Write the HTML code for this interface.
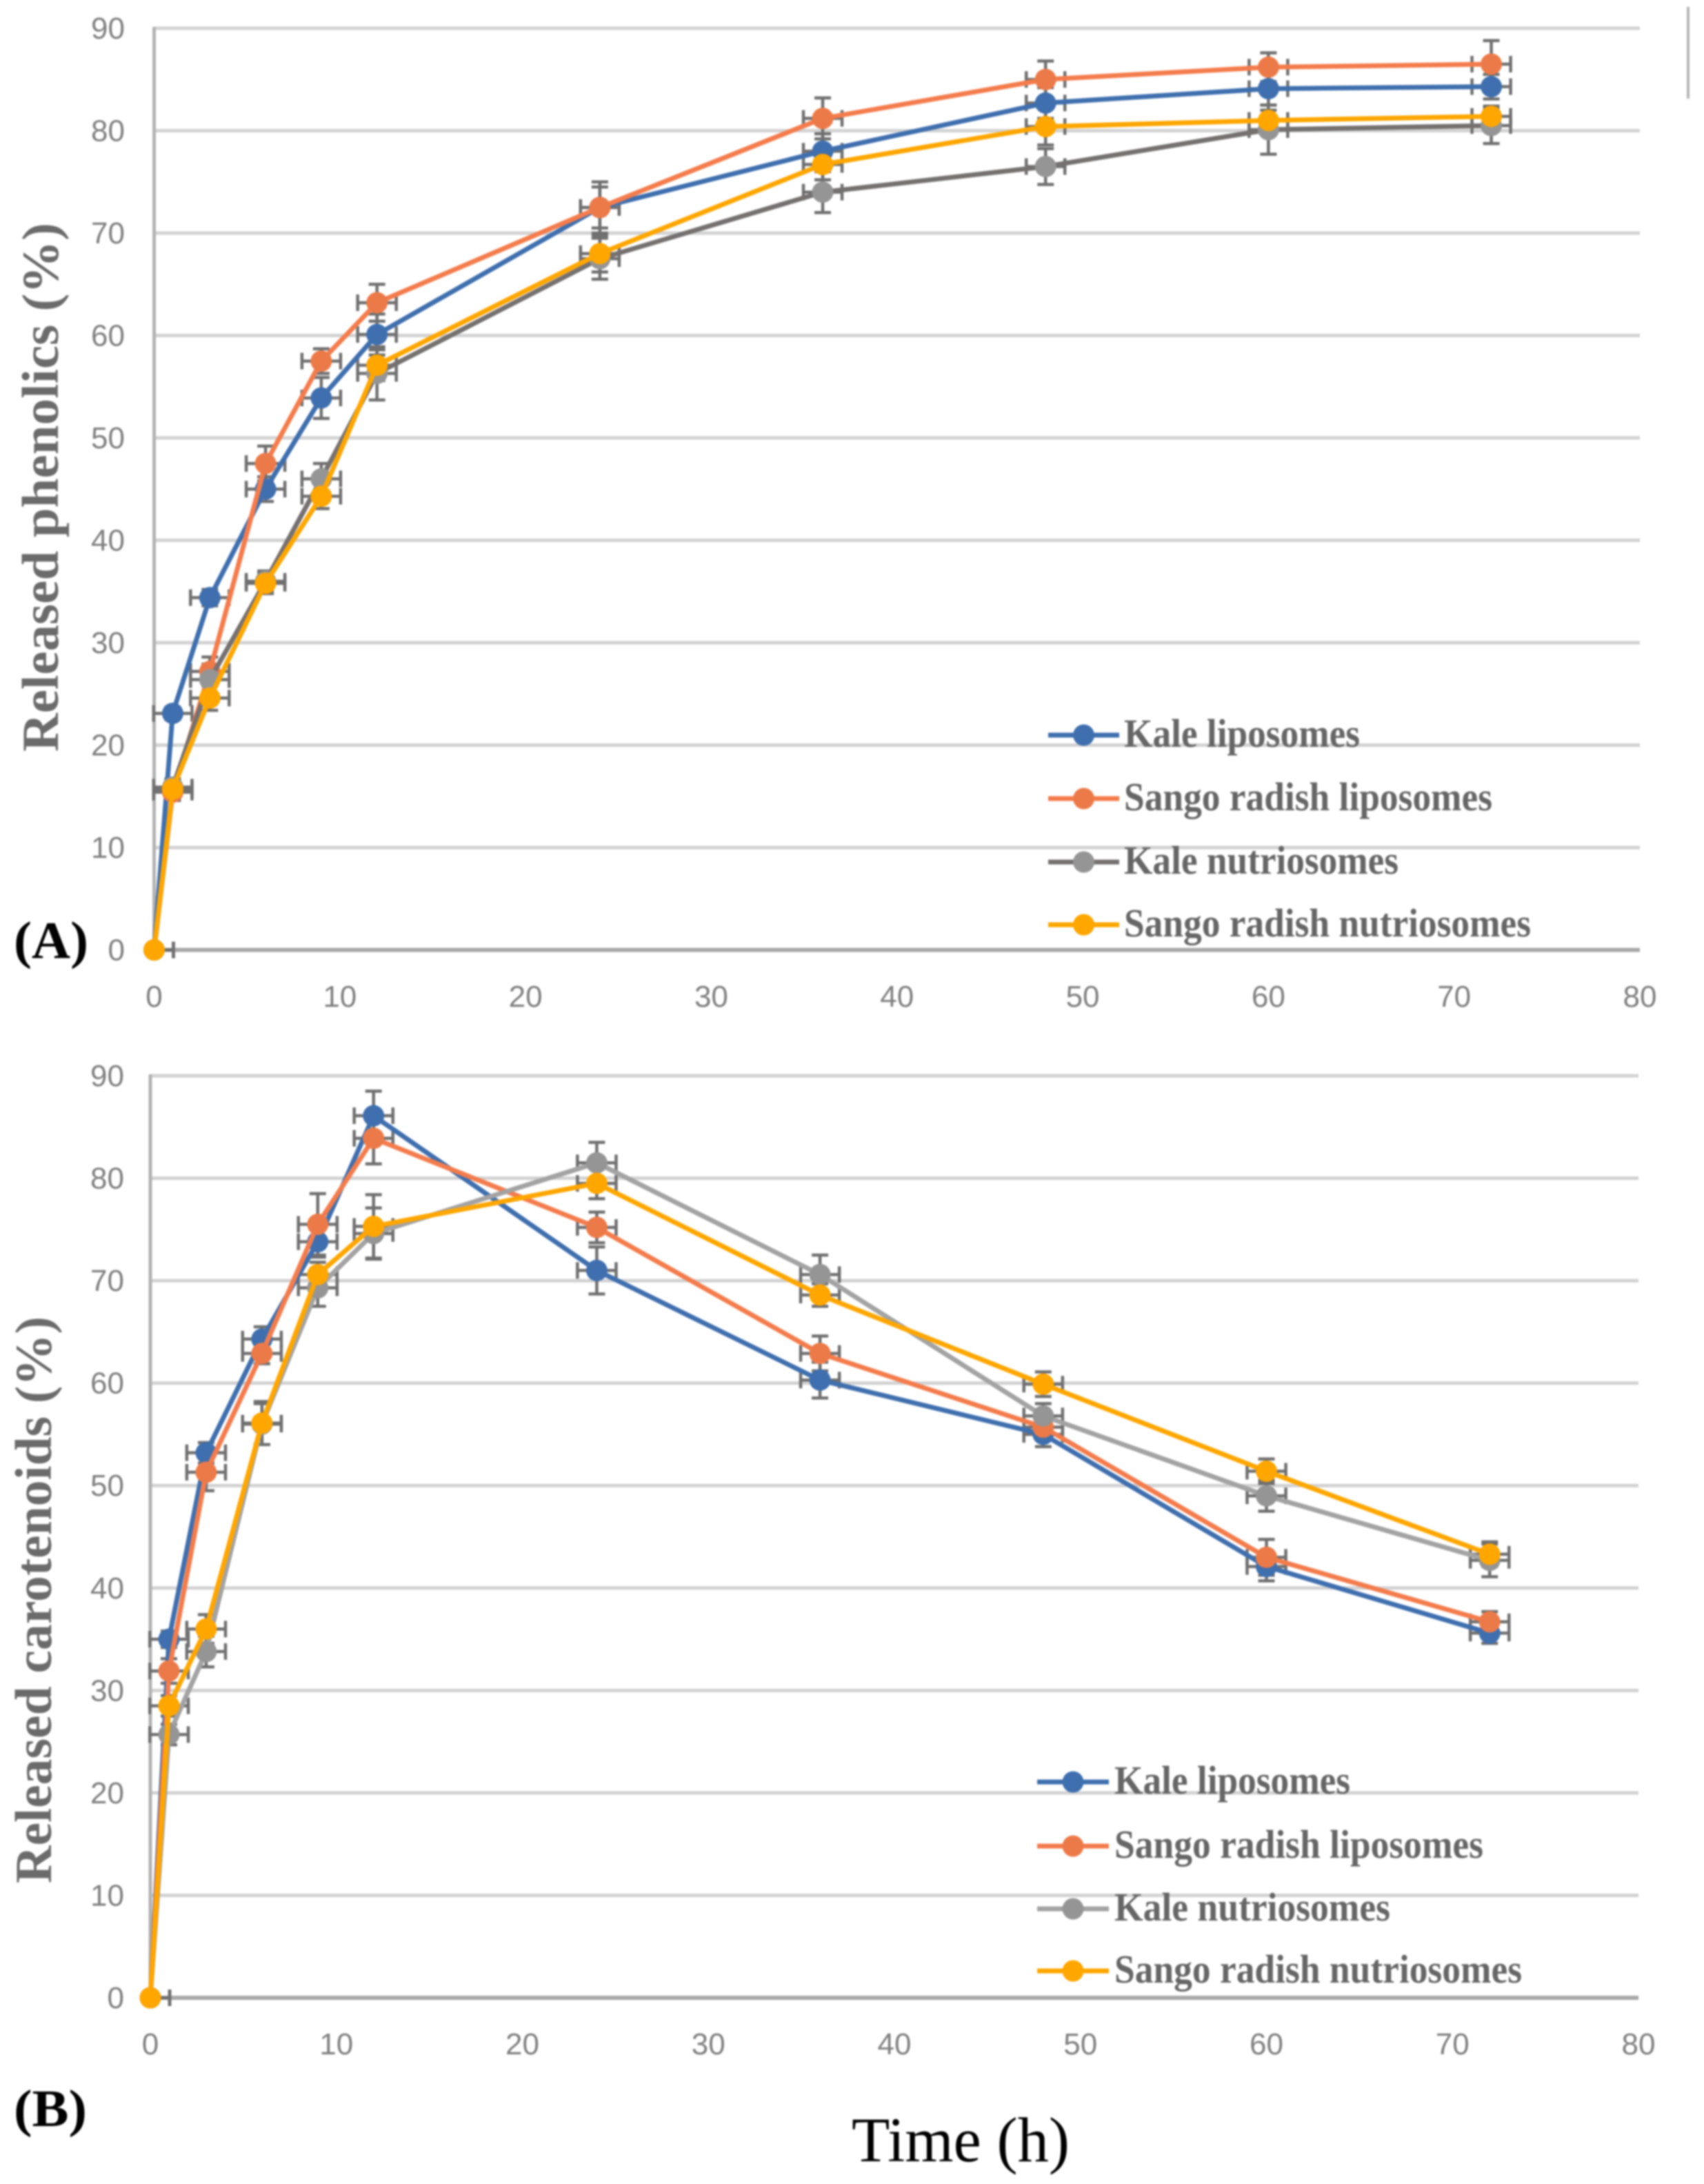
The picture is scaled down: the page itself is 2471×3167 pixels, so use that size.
<!DOCTYPE html>
<html lang="en">
<head>
<meta charset="utf-8">
<title>Released phenolics and carotenoids over time</title>
<style>
html,body{margin:0;padding:0;background:#fff;width:2471px;height:3167px;overflow:hidden}
svg{display:block;filter:blur(1.2px)}
.tick{font-family:"Liberation Sans",sans-serif;font-size:44px;fill:#808080}
.ytitle{font-family:"Liberation Serif",serif;font-weight:bold;font-size:75px;fill:#6b6b6b}
.legend{font-family:"Liberation Serif",serif;font-weight:bold;font-size:58px;fill:#666666}
.plabel{font-family:"Liberation Serif",serif;font-weight:bold;font-size:76px;fill:#000}
.xtitle{font-family:"Liberation Serif",serif;font-size:92px;fill:#000}
</style>
</head>
<body>
<svg id="fig" xmlns="http://www.w3.org/2000/svg" width="2471" height="3167" viewBox="0 0 2471 3167">
  <rect width="2471" height="3167" fill="#ffffff"/>
  <line x1="2448" y1="10" x2="2448" y2="143" stroke="#b5b5b5" stroke-width="4"/>
  <text class="ytitle" transform="translate(84,1090) rotate(-90)" textLength="767" lengthAdjust="spacingAndGlyphs">Released phenolics (%)</text>
  <text class="ytitle" transform="translate(74,2731) rotate(-90)" textLength="822" lengthAdjust="spacingAndGlyphs">Released carotenoids (%)</text>
  <text class="plabel" x="20" y="1389" textLength="108" lengthAdjust="spacingAndGlyphs">(A)</text>
  <text class="plabel" x="20" y="3083" textLength="106" lengthAdjust="spacingAndGlyphs">(B)</text>
  <text class="xtitle" x="1235" y="3134" textLength="316" lengthAdjust="spacingAndGlyphs">Time (h)</text>
</svg>
<script>
// Shared axis data
const hours = [0, 1, 3, 6, 9, 12, 24, 36, 48, 60, 72];
const yTickLabels = [0, 10, 20, 30, 40, 50, 60, 70, 80, 90];
const xTickLabels = [0, 10, 20, 30, 40, 50, 60, 70, 80];
const seriesNames = ['Kale liposomes', 'Sango radish liposomes', 'Kale nutriosomes', 'Sango radish nutriosomes'];
const seriesSlugs = ['kale-liposomes', 'sango-radish-liposomes', 'kale-nutriosomes', 'sango-radish-nutriosomes'];
const xErrorHours = 1.04;

// Panel A: released phenolics (%)
const phenolicsKaleLiposomes = [0, 23.1, 34.4, 45, 53.9, 60.1, 72.5, 78, 82.7, 84.1, 84.3];
const phenolicsSangoLiposomes = [0, 15.4, 27.2, 47.5, 57.5, 63.2, 72.5, 81.2, 85, 86.2, 86.5];
const phenolicsKaleNutriosomes = [0, 15.9, 26.4, 36, 46, 56.3, 67.5, 74, 76.5, 80.1, 80.5];
const phenolicsSangoNutriosomes = [0, 15.7, 24.6, 35.8, 44.3, 57.1, 68, 76.7, 80.4, 81, 81.4];
const phenolicsKaleLiposomesErr = [0, 0.6, 0.8, 1.2, 2, 2, 2, 1.7, 1.5, 1.6, 1.2];
const phenolicsSangoLiposomesErr = [0, 0.8, 1.4, 1.7, 1.2, 1.8, 2.5, 2, 1.8, 1.4, 2.3];
const phenolicsKaleNutriosomesErr = [0, 0.8, 1.5, 1, 1.5, 2.6, 2, 2, 1.75, 2.4, 1.75];
const phenolicsSangoNutriosomesErr = [0, 0.8, 1.2, 1, 1.2, 1.5, 1.8, 1.5, 1.8, 1, 1];

// Panel B: released carotenoids (%)
const carotenoidsKaleLiposomes = [0, 35, 53.2, 64.3, 73.8, 86.1, 71, 60.3, 55, 42.1, 35.6];
const carotenoidsSangoLiposomes = [0, 31.9, 51.3, 62.9, 75.5, 83.9, 75.2, 62.9, 55.7, 43, 36.7];
const carotenoidsKaleNutriosomes = [0, 25.7, 33.8, 56, 69.3, 74.6, 81.5, 70.6, 56.8, 49, 42.7];
const carotenoidsSangoNutriosomes = [0, 28.5, 36, 56.1, 70.6, 75.3, 79.5, 68.6, 59.9, 51.4, 43.3];
const carotenoidsKaleLiposomesErr = [0, 0.8, 1, 1.2, 1.5, 2.4, 2.3, 1.75, 1.2, 1.4, 1];
const carotenoidsSangoLiposomesErr = [0, 1.2, 1.8, 1, 3, 2.5, 1.5, 1.7, 1.2, 1.75, 1];
const carotenoidsKaleNutriosomesErr = [0, 1, 1.5, 2, 1.8, 2.5, 2, 1.9, 1.2, 1.5, 1.6];
const carotenoidsSangoNutriosomesErr = [0, 1, 1.4, 2.1, 1.2, 3.1, 1.5, 1.1, 1.2, 1.2, 1.2];

const panelAValues = [phenolicsKaleLiposomes, phenolicsSangoLiposomes, phenolicsKaleNutriosomes, phenolicsSangoNutriosomes];
const panelAErrors = [phenolicsKaleLiposomesErr, phenolicsSangoLiposomesErr, phenolicsKaleNutriosomesErr, phenolicsSangoNutriosomesErr];
const panelBValues = [carotenoidsKaleLiposomes, carotenoidsSangoLiposomes, carotenoidsKaleNutriosomes, carotenoidsSangoNutriosomes];
const panelBErrors = [carotenoidsKaleLiposomesErr, carotenoidsSangoLiposomesErr, carotenoidsKaleNutriosomesErr, carotenoidsSangoNutriosomesErr];

const SVGNS = 'http://www.w3.org/2000/svg';
const fig = document.getElementById('fig');
const markerColors = ['#3f6fae', '#ec7a48', '#959595', '#ffa600'];

function mk(parent, tag, attrs, text) {
  const el = document.createElementNS(SVGNS, tag);
  for (const k in attrs) el.setAttribute(k, attrs[k]);
  if (text !== undefined) el.textContent = text;
  parent.appendChild(el);
  return el;
}

function drawPanel(cfg) {
  const sx = h => cfg.x0 + (h / 80) * (cfg.x80 - cfg.x0);
  const sy = v => cfg.y0 - (v / 90) * (cfg.y0 - cfg.y90);
  const p = cfg.key;

  const panel = mk(fig, 'g', {});
  
  

  yTickLabels.forEach(t => {
    if (t > 0) {
      const g = mk(panel, 'line', { x1: sx(0), x2: sx(80), y1: sy(t), y2: sy(t), stroke: '#d2d2d2', 'stroke-width': 5 });
      
      
    }
    const lab = mk(panel, 'text', { class: 'tick', x: cfg.yLabelRight, y: sy(t) + 15, 'text-anchor': 'end' }, String(t));
    
    
  });

  xTickLabels.forEach(t => {
    const lab = mk(panel, 'text', { class: 'tick', x: sx(t), y: cfg.xLabelY, 'text-anchor': 'middle' }, String(t));
    
    
  });

  const yAxis = mk(panel, 'line', { x1: sx(0), x2: sx(0), y1: sy(90) - 2, y2: sy(0), stroke: '#b2b2b2', 'stroke-width': 5 });
  
  
  const xAxis = mk(panel, 'line', { x1: sx(0), x2: sx(80), y1: sy(0), y2: sy(0), stroke: '#a8a8a8', 'stroke-width': 6 });
  
  

  const clipId = p + '-clip';
  const defs = mk(panel, 'defs', {});
  const clip = mk(defs, 'clipPath', { id: clipId });
  mk(clip, 'rect', { x: sx(0) - 3, y: 0, width: sx(80) - sx(0) + 6, height: 3167 });

  // Error bars beneath the lines
  const capHalf = 12;
  cfg.values.forEach((vals, s) => {
    const errGroup = mk(panel, 'g', { stroke: '#707070', 'stroke-width': 4.5, fill: 'none', 'clip-path': 'url(#' + clipId + ')' });
    
    
    vals.forEach((v, i) => {
      const cx = sx(hours[i]), cy = sy(v);
      const left = sx(hours[i] - xErrorHours), right = sx(hours[i] + xErrorHours);
      mk(errGroup, 'path', { d: 'M' + left + ' ' + cy + 'H' + right +
        'M' + left + ' ' + (cy - capHalf) + 'V' + (cy + capHalf) +
        'M' + right + ' ' + (cy - capHalf) + 'V' + (cy + capHalf) });
      const e = cfg.errors[s][i];
      if (e > 0) {
        const top = sy(v + e), bot = sy(v - e);
        mk(errGroup, 'path', { d: 'M' + cx + ' ' + top + 'V' + bot +
          'M' + (cx - capHalf) + ' ' + top + 'H' + (cx + capHalf) +
          'M' + (cx - capHalf) + ' ' + bot + 'H' + (cx + capHalf) });
      }
    });
  });

  // Lines and markers
  cfg.values.forEach((vals, s) => {
    const pts = vals.map((v, i) => sx(hours[i]) + ',' + sy(v)).join(' ');
    const line = mk(panel, 'polyline', { points: pts, fill: 'none', stroke: cfg.lineColors[s], 'stroke-width': 7, 'stroke-linejoin': 'round' });
    
    
    vals.forEach((v, i) => {
      const c = mk(panel, 'circle', { cx: sx(hours[i]), cy: sy(v), r: 15.5, fill: markerColors[s] });
      
      
    });
  });

  // Legend
  seriesNames.forEach((name, s) => {
    const ly = cfg.legendY[s];
    const entry = mk(panel, 'g', {});
    
    
    mk(entry, 'line', { x1: cfg.legendLine[0], x2: cfg.legendLine[1], y1: ly, y2: ly, stroke: cfg.lineColors[s], 'stroke-width': 7 });
    mk(entry, 'circle', { cx: (cfg.legendLine[0] + cfg.legendLine[1]) / 2, cy: ly, r: 15.5, fill: markerColors[s] });
    mk(entry, 'text', { class: 'legend', x: cfg.legendTextX, y: ly + 17, textLength: cfg.legendWidths[s], lengthAdjust: 'spacingAndGlyphs' }, name);
  });
}

drawPanel({
  key: 'panel-a', x0: 223.5, x80: 2378, y0: 1377.5, y90: 41,
  yLabelRight: 181, xLabelY: 1460,
  values: panelAValues, errors: panelAErrors,
  lineColors: ['#3f6fae', '#f47c4c', '#767171', '#ffa600'],
  legendY: [1066, 1158, 1250, 1341], legendLine: [1520, 1623], legendTextX: 1630,
  legendWidths: [342, 534, 398, 590]
});

drawPanel({
  key: 'panel-b', x0: 218, x80: 2376, y0: 2897, y90: 1560,
  yLabelRight: 180, xLabelY: 2979,
  values: panelBValues, errors: panelBErrors,
  lineColors: ['#3f6fae', '#f47c4c', '#a3a3a3', '#ffa600'],
  legendY: [2584, 2677, 2768, 2858], legendLine: [1504, 1608], legendTextX: 1616,
  legendWidths: [342, 535, 400, 591]
});
</script>
</body>
</html>
